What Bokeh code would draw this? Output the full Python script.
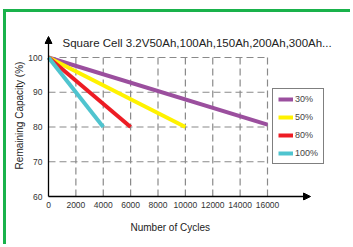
from bokeh.plotting import figure
from bokeh.models import (Range1d, FixedTicker, Arrow, NormalHead, Label,
                          Legend, LegendItem, Title)
from bokeh.embed import file_html
from bokeh.resources import INLINE

# ---- data ----
cycles_30 = [0, 16000]
cap_30 = [100, 80.7]
cycles_50 = [0, 10000]
cap_50 = [100, 80]
cycles_80 = [0, 6000]
cap_80 = [100, 80]
cycles_100 = [0, 4000]
cap_100 = [100, 80]
series_labels = ["30%", "50%", "80%", "100%"]
series_colors = ["#9b4f9e", "#fff200", "#ed1c24", "#4fc4cf"]
x_ticks = [0, 2000, 4000, 6000, 8000, 10000, 12000, 14000, 16000]
y_ticks = [60, 70, 80, 90, 100]
title_text = "Square Cell 3.2V50Ah,100Ah,150Ah,200Ah,300Ah..."
x_title = "Number of Cycles"
y_title = "Remaining Capacity (%)"

FONT = "Liberation Sans"
GREEN = "#19b24b"

p = figure(width=347, height=235, output_backend="svg", toolbar_location=None,
           x_range=Range1d(-292.2, 21698.6), y_range=Range1d(58.849, 107.77),
           min_border_left=38, min_border_right=8,
           min_border_top=18, min_border_bottom=47)
p.margin = (9, 0, 0, 3)
p.styles = {"border-top": "3px solid " + GREEN, "border-left": "3px solid " + GREEN}
p.outline_line_color = None
p.background_fill_color = "white"
p.border_fill_color = "white"
p.grid.visible = False

# axes (the axis lines themselves are drawn as arrows below)
for ax in (p.xaxis[0], p.yaxis[0]):
    ax.axis_line_color = None
    ax.major_tick_line_color = None
    ax.minor_tick_line_color = None
    ax.major_tick_out = 0
    ax.major_tick_in = 0
    ax.minor_tick_out = 0
    ax.minor_tick_in = 0
    ax.major_label_text_font = FONT
    ax.major_label_text_font_size = "8.5px"
    ax.major_label_text_color = "#333333"
p.xaxis.major_label_standoff = 1
p.yaxis.major_label_standoff = 2
p.xaxis.ticker = FixedTicker(ticks=x_ticks)
p.yaxis.ticker = FixedTicker(ticks=y_ticks)
p.yaxis.axis_label = y_title
p.yaxis.axis_label_text_font = FONT
p.yaxis.axis_label_text_font_size = "10px"
p.yaxis.axis_label_text_font_style = "normal"
p.yaxis.axis_label_text_color = "#222222"
p.yaxis.axis_label_standoff = 0

# dashed grid box
n_v = len(x_ticks) - 1
n_h = len(y_ticks) - 1
p.segment(x0=x_ticks[1:], y0=[y_ticks[0]] * n_v, x1=x_ticks[1:], y1=[y_ticks[-1]] * n_v,
          line_color="#8a8a8a", line_width=1.2, line_dash="7 4")
p.segment(x0=[x_ticks[0]] * n_h, y0=y_ticks[1:], x1=[x_ticks[-1]] * n_h, y1=y_ticks[1:],
          line_color="#8a8a8a", line_width=1.2, line_dash="7 4")

# lines
r30 = p.line(cycles_30, cap_30, line_color=series_colors[0], line_width=4)
r50 = p.line(cycles_50, cap_50, line_color=series_colors[1], line_width=4)
r80 = p.line(cycles_80, cap_80, line_color=series_colors[2], line_width=4)
r100 = p.line(cycles_100, cap_100, line_color=series_colors[3], line_width=4)

legend = Legend(items=[LegendItem(label=series_labels[i], renderers=[r])
                       for i, r in enumerate([r30, r50, r80, r100])],
                location=(228, 36), border_line_color="black", border_line_width=1.5,
                label_text_font=FONT, label_text_font_size="9px",
                label_text_color="#444444", glyph_width=15, glyph_height=6,
                label_standoff=2, label_height=10, spacing=8, padding=5, margin=0,
                background_fill_color="white", background_fill_alpha=1)
p.add_layout(legend)

# axis lines with arrow heads
p.add_layout(Arrow(end=NormalHead(size=7, fill_color="black", line_color="black"),
                   x_start=x_ticks[0], y_start=y_ticks[0], start_units="data",
                   x_end=4, y_end=164, end_units="screen",
                   line_color="black", line_width=1.3))
p.add_layout(Arrow(end=NormalHead(size=7, fill_color="black", line_color="black"),
                   x_start=x_ticks[0], y_start=y_ticks[0], start_units="data",
                   x_end=266, y_end=4, end_units="screen",
                   line_color="black", line_width=1.3))

# chart title (inside frame area)
p.add_layout(Label(x=18, y=158, x_units="screen", y_units="screen", text=title_text,
                   text_font=FONT, text_font_size="11.5px", text_color="#222222",
                   text_baseline="middle", text_align="left"))

# x axis title
p.add_layout(Title(text=x_title, align="left", offset=86, standoff=18,
                   text_font=FONT, text_font_size="10px", text_font_style="normal",
                   text_color="#222222"), "below")

open("out.html", "w").write(file_html(p, INLINE))
